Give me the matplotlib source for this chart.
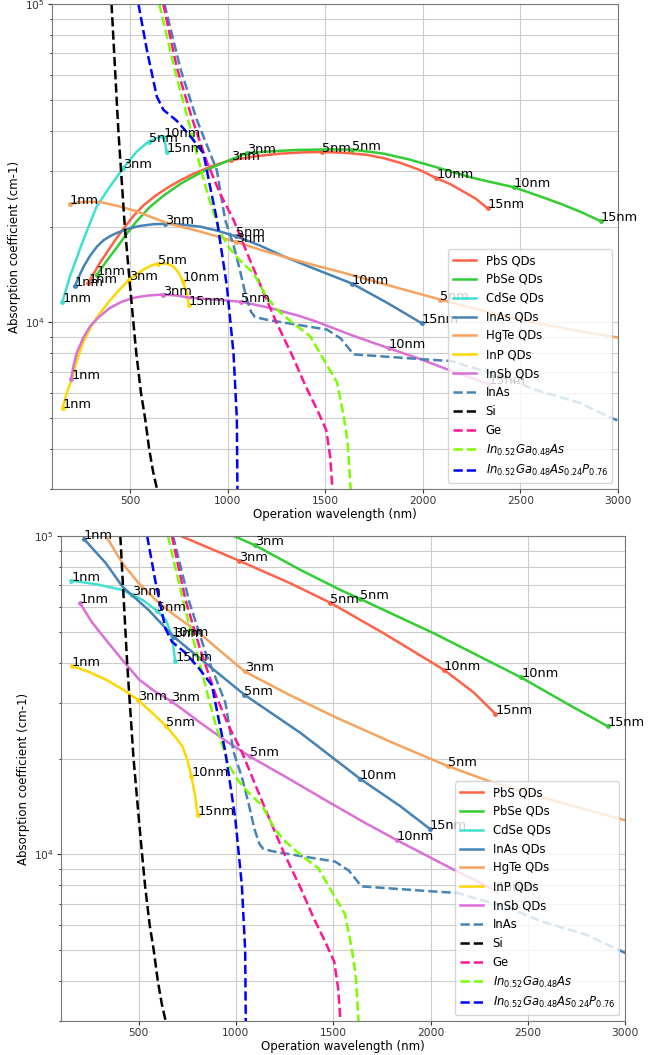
import numpy as np
import matplotlib.pyplot as plt
from matplotlib.ticker import NullFormatter

sizes = ['1nm', '3nm', '5nm', '10nm', '15nm']

# wavelength (nm) of each QD size, same in both panels
pbs_wl = [286, 1015, 1483, 2069, 2333]
pbse_wl = [329, 1098, 1637, 2466, 2912]
cdse_wl = [153, 466, 595, 671, 687]
inas_wl = [217, 679, 1043, 1637, 1996]
hgte_wl = [192, 1044, 2090]
inp_wl = [155, 495, 642, 770, 802]
insb_wl = [198, 668, 1070, 1826, 2338]

# ---- top panel: absorption at each size
pbs_top = [13300, 32300, 34300, 28400, 22800]
pbse_top = [14100, 34000, 34900, 26600, 20800]
cdse_top = [11600, 30600, 37000, 38300, 34400]
inas_top = [13000, 20400, 18640, 13250, 9930]
hgte_top = [23560, 17900, 11800]
inp_top = [5400, 13640, 15310, 13480, 11310]
insb_top = [6660, 12240, 11610, 8300, 6400]

# top panel curves
pbs_top_x = [286, 310, 340, 380, 420, 466, 520, 568, 630, 688, 760, 825, 920, 1015, 1150, 1270, 1380,
             1483, 1600, 1714, 1800, 1885, 1980, 2069, 2140, 2192, 2270, 2333]
pbs_top_y = [13300, 14100, 15200, 16540, 18000, 19700, 21700, 23300, 25000, 26400, 28000, 29300, 31000,
             32300, 33300, 33900, 34200, 34300, 34100, 33600, 32800, 31700, 30200, 28400, 27200, 26100,
             24500, 22800]
pbse_top_x = [329, 360, 400, 432, 480, 534, 600, 671, 760, 859, 980, 1098, 1200, 1350, 1500, 1637, 1799,
              1930, 2055, 2160, 2250, 2360, 2466, 2600, 2705, 2812, 2912]
pbse_top_y = [14100, 15000, 16200, 17200, 18900, 20800, 23000, 25000, 27300, 29500, 31800, 34000, 34400,
              34800, 34950, 34900, 33900, 32500, 30900, 29600, 28500, 27500, 26600, 24900, 23600, 22200,
              20800]
cdse_top_x = [153, 192, 261, 329, 397, 466, 534, 595, 640, 671, 680, 687]
cdse_top_y = [11600, 13960, 18200, 23150, 26730, 30600, 34400, 37000, 38000, 38300, 36500, 34400]
inas_top_x = [217, 240, 260, 295, 330, 363, 400, 432, 490, 551, 620, 679, 760, 859, 950, 1043, 1160,
              1286, 1450, 1637, 1816, 1996]
inas_top_y = [13000, 14000, 14900, 16200, 17300, 18100, 18700, 19100, 19700, 20100, 20350, 20400, 20300,
              20000, 19400, 18640, 17500, 16140, 14700, 13250, 11540, 9930]
hgte_top_x = [192, 230, 280, 346, 440, 534, 610, 688, 770, 859, 950, 1044, 1170, 1300, 1450, 1594, 1840,
              2090, 2330, 2568, 2800, 3004, 3100]
hgte_top_y = [23560, 23800, 23950, 23900, 23200, 22340, 21400, 20540, 19900, 19300, 18600, 17900, 16900,
              16000, 15100, 14320, 13000, 11800, 10800, 9980, 9400, 8960, 8700]
inp_top_x = [155, 175, 201, 230, 261, 300, 346, 390, 432, 495, 568, 610, 642, 690, 722, 750, 770, 790, 802]
inp_top_y = [5400, 6000, 6620, 7700, 8700, 9700, 10700, 11600, 12400, 13640, 14660, 15100, 15310, 15300,
             15000, 14300, 13480, 12400, 11310]
insb_top_x = [198, 212, 227, 260, 295, 340, 397, 455, 517, 590, 668, 740, 808, 940, 1070, 1220, 1372,
              1457, 1640, 1826, 1980, 2124, 2338]
insb_top_y = [6660, 7400, 8040, 8950, 9730, 10400, 11110, 11600, 11950, 12150, 12240, 12150, 11950, 11800,
              11610, 11100, 10460, 10050, 9100, 8300, 7700, 7130, 6400]

# ---- bottom panel: absorption at each size
pbs_bot = [220000, 83700, 61800, 38000, 27660]
pbse_bot = [250000, 93500, 63500, 35960, 25240]
cdse_bot = [72440, 65300, 58200, 48600, 40360]
inas_bot = [98000, 48300, 31740, 17300, 12040]
hgte_bot = [145000, 37560, 18930]
inp_bot = [39130, 30600, 25240, 17600, 13350]
insb_bot = [61500, 30250, 20320, 11100, 7680]

pbs_bot_x = [286, 716, 1015, 1280, 1483, 1759, 2069, 2221, 2333]
pbs_bot_y = [220000, 100000, 83700, 71000, 61800, 49500, 38000, 32300, 27660]
pbse_bot_x = [329, 989, 1098, 1332, 1537, 1637, 2016, 2466, 2700, 2912]
pbse_bot_y = [250000, 100000, 93500, 78200, 67700, 63500, 49530, 35960, 29800, 25240]
cdse_bot_x = [153, 279, 416, 466, 519, 595, 639, 671, 687]
cdse_bot_y = [72440, 70600, 67700, 65300, 63000, 58200, 54500, 48600, 40360]
inas_bot_x = [217, 331, 416, 550, 679, 844, 1043, 1332, 1637, 1845, 1996]
inas_bot_y = [98000, 82100, 69330, 58600, 48300, 39880, 31740, 24070, 17300, 14170, 12040]
hgte_bot_x = [192, 331, 416, 500, 587, 690, 793, 920, 1044, 1270, 1502, 1800, 2090, 2300, 2495, 2750,
              3000, 3100]
hgte_bot_y = [145000, 100000, 82100, 71000, 62980, 56000, 50700, 43500, 37560, 31800, 27140, 22500, 18930,
              17000, 15600, 14100, 12810, 12300]
inp_bot_x = [155, 240, 331, 420, 495, 570, 642, 690, 724, 750, 770, 790, 802]
inp_bot_y = [39130, 37500, 35400, 32900, 30600, 27800, 25240, 23300, 21860, 19800, 17600, 15300, 13350]
insb_bot_x = [198, 260, 331, 420, 502, 580, 668, 740, 818, 940, 1070, 1250, 1469, 1650, 1826, 2101, 2338]
insb_bot_y = [61500, 53500, 47200, 40500, 35400, 32600, 30250, 28100, 25880, 22900, 20320, 17600, 14700,
              12700, 11100, 9080, 7680]

# ---- bulk materials (same in both panels)
inas_bulk_x = [676, 760, 842, 945, 987, 1030, 1064, 1095, 1120, 1140, 1200, 1372, 1509, 1580, 1611, 1645,
               2007, 2141, 2226, 2400, 2568, 2800, 3003]
inas_bulk_y = [100000, 62000, 43300, 30000, 21000, 17500, 14500, 12000, 10800, 10400, 10200, 9800, 9500,
               8900, 8430, 7940, 7660, 7570, 7300, 6800, 6170, 5600, 4900]
si_x = [405, 440, 473, 500, 517, 532, 556, 577, 598, 618, 638]
si_y = [100000, 40000, 20000, 13000, 10000, 8000, 6000, 5000, 4000, 3400, 3000]
ge_x = [670, 740, 816, 893, 960, 1030, 1100, 1170, 1250, 1330, 1400, 1460, 1505, 1525, 1537]
ge_y = [100000, 63000, 44000, 32000, 25500, 21000, 16500, 13000, 10000, 7900, 6300, 5300, 4600, 3800, 3000]
ingaas_x = [650, 735, 816, 859, 900, 962, 1013, 1070, 1132, 1200, 1252, 1330, 1423, 1500, 1560, 1594,
            1615, 1630]
ingaas_y = [100000, 60000, 39300, 30900, 25000, 19100, 17000, 15500, 14300, 12000, 11000, 10000, 9050,
            7500, 6500, 5100, 4200, 3000]
ingaasp_x = [543, 586, 637, 671, 739, 808, 876, 910, 945, 996, 1030, 1047, 1050]
ingaasp_y = [100000, 71750, 51200, 46500, 43000, 38500, 34000, 26700, 21000, 13000, 8000, 5000, 3000]

qd_names = ['PbS QDs', 'PbSe QDs', 'CdSe QDs', 'InAs QDs', 'HgTe QDs', 'InP QDs', 'InSb QDs']
qd_colors = ['tomato', 'limegreen', 'turquoise', 'steelblue', 'sandybrown', 'gold', 'orchid']
qd_wl = [pbs_wl, pbse_wl, cdse_wl, inas_wl, hgte_wl, inp_wl, insb_wl]

bulk_names = ['InAs', 'Si', 'Ge', r'$In_{0.52}Ga_{0.48}As$', r'$In_{0.52}Ga_{0.48}As_{0.24}P_{0.76}$']
bulk_colors = ['steelblue', 'black', 'deeppink', 'lawngreen', 'blue']
bulk_x = [inas_bulk_x, si_x, ge_x, ingaas_x, ingaasp_x]
bulk_y = [inas_bulk_y, si_y, ge_y, ingaas_y, ingaasp_y]

top_curves = [(pbs_top_x, pbs_top_y, pbs_top), (pbse_top_x, pbse_top_y, pbse_top),
              (cdse_top_x, cdse_top_y, cdse_top), (inas_top_x, inas_top_y, inas_top),
              (hgte_top_x, hgte_top_y, hgte_top), (inp_top_x, inp_top_y, inp_top),
              (insb_top_x, insb_top_y, insb_top)]
bot_curves = [(pbs_bot_x, pbs_bot_y, pbs_bot), (pbse_bot_x, pbse_bot_y, pbse_bot),
              (cdse_bot_x, cdse_bot_y, cdse_bot), (inas_bot_x, inas_bot_y, inas_bot),
              (hgte_bot_x, hgte_bot_y, hgte_bot), (inp_bot_x, inp_bot_y, inp_bot),
              (insb_bot_x, insb_bot_y, insb_bot)]


def draw_panel(ax, curves):
    for name, c, wl, (cx, cy, mk) in zip(qd_names, qd_colors, qd_wl, curves):
        ax.plot(cx, cy, color=c, lw=1.8, label=name)
        ax.plot(wl, mk, '.', color=c, ms=5)
        for s, x, y in zip(sizes, wl, mk):
            ax.annotate(s, (x, y), fontsize=9.3)
    for name, c, x, y in zip(bulk_names, bulk_colors, bulk_x, bulk_y):
        ax.plot(x, y, '--', color=c, lw=1.8, label=name)

    ax.set_yscale('log')
    ax.set_xlim(100, 3000)
    ax.set_ylim(3000, 100000)
    ax.set_xticks([500, 1000, 1500, 2000, 2500, 3000])
    ax.yaxis.set_minor_formatter(NullFormatter())
    ax.grid(True, which='both', color='#cccccc', lw=0.8)
    ax.tick_params(which='major', length=2.7, pad=2.5)
    ax.tick_params(which='minor', length=1.6)
    ax.tick_params(labelsize=7.7, colors='#333333')
    for sp in ax.spines.values():
        sp.set_color('#777777')
    ax.set_xlabel('Operation wavelength (nm)', fontsize=8.5, labelpad=1)
    ax.set_ylabel('Absorption coefficient (cm-1)', fontsize=8.5, labelpad=3)
    ax.legend(loc='lower right', fontsize=8.4)


fig = plt.figure(figsize=(6.65, 10.55), dpi=100)
ax1 = fig.add_axes([52 / 665, 1 - 489 / 1055, 566 / 665, 485 / 1055])
ax2 = fig.add_axes([61 / 665, 1 - 1021 / 1055, 564 / 665, 485 / 1055])

draw_panel(ax1, top_curves)
draw_panel(ax2, bot_curves)

fig.savefig('out.png', dpi=100)
